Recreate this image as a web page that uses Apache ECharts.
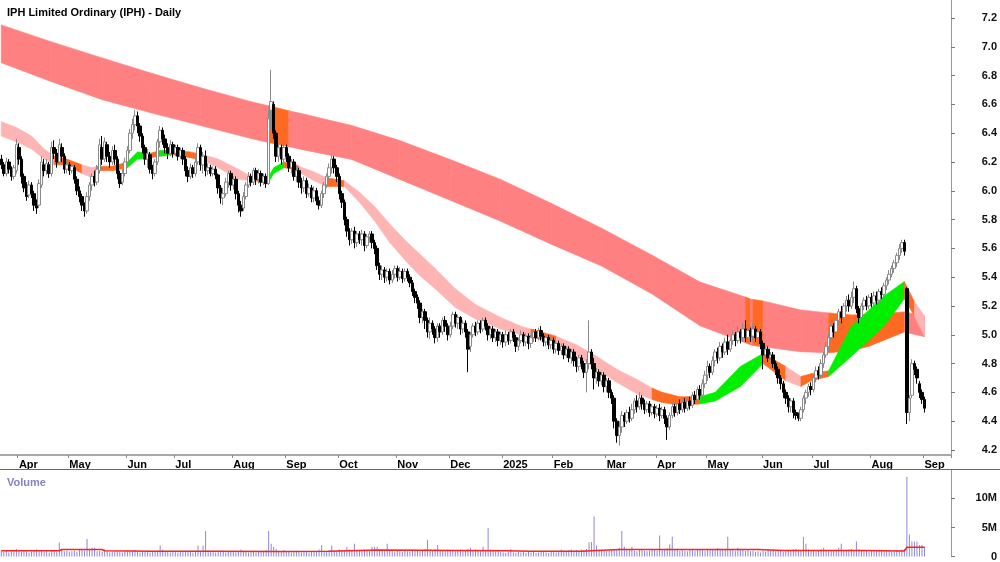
<!DOCTYPE html>
<html>
<head>
<meta charset="utf-8">
<script src="https://cdn.jsdelivr.net/npm/echarts@6/dist/echarts.min.js"></script>
<style>
  html, body { margin: 0; padding: 0; background: #fff; }
  #chart { width: 1000px; height: 562px; }
</style>
</head>
<body>
<div id="chart"></div>
<script>
// daily candles, [open, close, low, high]
const ohlc = [
  [6.22,6.18,6.15,6.25],[6.18,6.12,6.10,6.20],[6.12,6.20,6.10,6.23],[6.20,6.15,6.12,6.22],[6.15,6.10,6.07,6.17],
  [6.10,6.16,6.08,6.18],[6.14,6.32,6.12,6.36],[6.30,6.22,6.18,6.33],[6.22,6.10,6.05,6.24],[6.10,6.02,5.99,6.12],
  [6.04,5.96,5.93,6.06],[5.97,6.04,5.95,6.07],[6.04,5.98,5.95,6.06],[5.98,5.90,5.86,6.00],[5.90,5.88,5.84,5.94],
  [5.90,6.05,5.88,6.08],[6.04,6.20,6.02,6.24],[6.18,6.14,6.10,6.22],[6.14,6.19,6.11,6.22],[6.18,6.12,6.09,6.20],
  [6.12,6.30,6.10,6.34],[6.30,6.26,6.22,6.35],[6.26,6.20,6.16,6.29],[6.20,6.32,6.18,6.36],[6.30,6.24,6.20,6.33],
  [6.24,6.15,6.12,6.26],[6.15,6.18,6.12,6.21],[6.18,6.14,6.11,6.20],[6.14,6.17,6.12,6.19],[6.16,6.08,6.05,6.18],
  [6.08,6.00,5.97,6.10],[6.00,5.96,5.92,6.03],[5.96,5.90,5.86,5.98],[5.90,5.86,5.82,5.92],[5.86,5.96,5.84,5.99],
  [5.96,6.04,5.93,6.06],[6.04,6.10,6.00,6.12],[6.10,6.06,6.03,6.14],[6.06,6.15,6.04,6.18],[6.14,6.32,6.12,6.36],
  [6.30,6.22,6.18,6.38],[6.22,6.34,6.20,6.37],[6.32,6.24,6.20,6.34],[6.24,6.20,6.16,6.27],[6.20,6.28,6.18,6.31],
  [6.28,6.22,6.18,6.32],[6.22,6.12,6.08,6.24],[6.12,6.05,6.02,6.14],[6.06,6.12,6.04,6.15],[6.12,6.20,6.10,6.23],
  [6.20,6.28,6.17,6.31],[6.28,6.40,6.26,6.43],[6.40,6.46,6.36,6.50],[6.46,6.52,6.42,6.56],[6.52,6.45,6.40,6.55],
  [6.45,6.38,6.34,6.47],[6.38,6.30,6.26,6.40],[6.30,6.22,6.18,6.32],[6.22,6.26,6.16,6.29],[6.25,6.15,6.12,6.27],
  [6.15,6.12,6.08,6.18],[6.12,6.20,6.10,6.22],[6.20,6.34,6.18,6.36],[6.34,6.42,6.30,6.45],[6.42,6.36,6.32,6.44],
  [6.36,6.30,6.26,6.39],[6.30,6.26,6.22,6.33],[6.26,6.32,6.24,6.35],[6.32,6.26,6.23,6.34],[6.26,6.30,6.24,6.32],
  [6.30,6.24,6.21,6.32],[6.24,6.28,6.22,6.30],[6.28,6.22,6.18,6.30],[6.22,6.14,6.10,6.24],[6.14,6.10,6.06,6.17],
  [6.10,6.16,6.08,6.19],[6.16,6.12,6.09,6.18],[6.12,6.20,6.10,6.22],[6.20,6.30,6.18,6.33],[6.30,6.18,6.14,6.32],
  [6.18,6.24,6.12,6.27],[6.24,6.14,6.10,6.28],[6.14,6.16,6.11,6.19],[6.16,6.12,6.10,6.18],[6.12,6.15,6.10,6.17],
  [6.15,6.11,6.08,6.17],[6.11,6.02,5.98,6.12],[6.02,5.95,5.91,6.04],[5.95,5.98,5.90,6.02],[5.98,6.06,5.96,6.09],
  [6.06,6.12,6.02,6.14],[6.12,6.04,6.00,6.14],[6.04,6.08,6.01,6.10],[6.08,5.98,5.94,6.10],[5.98,5.90,5.85,6.00],
  [5.90,5.86,5.82,5.93],[5.88,5.96,5.86,5.99],[5.96,6.04,5.94,6.06],[6.04,6.10,6.02,6.13],[6.10,6.06,6.03,6.12],
  [6.06,6.14,6.04,6.16],[6.14,6.08,6.04,6.16],[6.08,6.12,6.05,6.15],[6.12,6.06,6.03,6.14],[6.06,6.10,6.04,6.12],
  [6.10,6.05,6.02,6.12],[6.05,6.50,6.04,6.56],[6.56,6.62,6.42,6.84],[6.60,6.40,6.36,6.62],[6.40,6.24,6.20,6.42],
  [6.24,6.30,6.20,6.33],[6.30,6.22,6.18,6.32],[6.22,6.30,6.20,6.33],[6.30,6.24,6.20,6.32],[6.24,6.16,6.13,6.26],
  [6.16,6.20,6.12,6.22],[6.20,6.10,6.07,6.22],[6.10,6.14,6.06,6.17],[6.14,6.06,6.02,6.16],[6.06,6.02,5.98,6.09],
  [6.02,6.07,5.99,6.10],[6.07,5.98,5.95,6.09],[5.98,6.02,5.96,6.05],[6.02,5.95,5.92,6.04],[5.95,6.00,5.92,6.03],
  [6.00,5.93,5.90,6.02],[5.93,5.90,5.87,5.96],[5.90,5.98,5.88,6.00],[5.98,6.04,5.95,6.06],[6.04,6.10,6.02,6.12],
  [6.10,6.16,6.07,6.19],[6.16,6.22,6.12,6.25],[6.22,6.16,6.12,6.24],[6.16,6.10,6.06,6.18],[6.10,5.98,5.94,6.12],
  [5.98,5.92,5.88,6.00],[5.92,5.80,5.76,5.94],[5.80,5.72,5.68,5.82],[5.72,5.66,5.62,5.74],[5.66,5.72,5.63,5.74],
  [5.72,5.64,5.60,5.75],[5.64,5.70,5.61,5.72],[5.70,5.66,5.63,5.72],[5.66,5.70,5.62,5.73],[5.70,5.62,5.58,5.72],
  [5.62,5.68,5.60,5.70],[5.68,5.70,5.64,5.72],[5.70,5.64,5.60,5.72],[5.64,5.60,5.56,5.66],[5.60,5.48,5.45,5.62],
  [5.48,5.42,5.38,5.50],[5.42,5.45,5.38,5.48],[5.45,5.40,5.36,5.47],[5.40,5.44,5.37,5.46],[5.44,5.38,5.35,5.46],
  [5.38,5.42,5.36,5.45],[5.42,5.46,5.39,5.48],[5.46,5.40,5.37,5.48],[5.40,5.44,5.38,5.47],[5.44,5.39,5.36,5.46],
  [5.39,5.44,5.37,5.46],[5.44,5.40,5.37,5.46],[5.40,5.36,5.33,5.42],[5.36,5.30,5.27,5.38],[5.30,5.26,5.22,5.32],
  [5.26,5.22,5.18,5.28],[5.22,5.12,5.08,5.24],[5.12,5.16,5.08,5.18],[5.16,5.10,5.04,5.18],[5.10,5.02,4.98,5.12],
  [5.02,5.08,4.97,5.12],[5.08,5.04,5.00,5.10],[5.04,4.98,4.94,5.06],[4.98,5.06,4.95,5.08],[5.06,5.02,4.98,5.08],
  [5.02,5.10,5.00,5.12],[5.10,5.06,5.02,5.13],[5.06,5.00,4.96,5.08],[5.00,5.06,4.98,5.09],[5.06,5.14,5.04,5.16],
  [5.14,5.08,5.05,5.16],[5.08,5.12,5.04,5.14],[5.12,5.04,5.00,5.13],[5.04,5.08,5.01,5.10],[5.08,5.02,4.98,5.10],
  [5.02,4.90,4.74,5.04],[4.92,5.00,4.88,5.02],[5.00,5.06,4.98,5.08],[5.06,5.02,4.99,5.09],[5.02,5.08,5.00,5.10],
  [5.08,5.04,5.01,5.10],[5.04,5.10,5.02,5.12],[5.10,5.06,5.03,5.12],[5.06,5.00,4.96,5.08],[5.00,5.04,4.97,5.06],
  [5.04,4.98,4.95,5.06],[4.98,5.02,4.95,5.04],[5.02,4.96,4.92,5.04],[4.96,5.00,4.93,5.02],[5.00,4.95,4.91,5.02],
  [4.95,5.00,4.92,5.03],[5.00,4.96,4.93,5.02],[4.96,5.02,4.94,5.04],[5.02,4.98,4.95,5.04],[4.98,4.92,4.88,5.00],
  [4.92,4.96,4.89,4.98],[4.96,5.00,4.94,5.03],[5.00,4.95,4.92,5.02],[4.95,4.99,4.92,5.01],[4.99,4.94,4.90,5.01],
  [4.94,4.98,4.91,5.00],[4.98,5.02,4.95,5.04],[5.02,4.98,4.95,5.04],[4.98,5.03,4.96,5.05],[5.03,4.99,4.96,5.06],
  [4.99,4.95,4.92,5.01],[4.95,4.98,4.92,5.00],[4.98,4.93,4.90,5.00],[4.93,4.96,4.90,4.98],[4.96,4.90,4.87,4.98],
  [4.90,4.94,4.87,4.96],[4.94,4.89,4.86,4.96],[4.89,4.92,4.86,4.94],[4.92,4.86,4.83,4.94],[4.86,4.90,4.84,4.92],
  [4.90,4.84,4.81,4.92],[4.84,4.88,4.80,4.90],[4.88,4.82,4.78,4.90],[4.82,4.78,4.74,4.85],[4.78,4.84,4.75,4.86],
  [4.84,4.80,4.76,4.86],[4.80,4.74,4.70,4.82],[4.74,4.80,4.60,4.83],[4.80,4.88,4.76,5.10],[4.88,4.80,4.76,4.90],
  [4.80,4.70,4.62,4.84],[4.70,4.74,4.66,4.77],[4.74,4.68,4.64,4.76],[4.68,4.72,4.65,4.74],[4.72,4.64,4.60,4.74],
  [4.64,4.68,4.60,4.70],[4.68,4.60,4.56,4.70],[4.60,4.56,4.52,4.62],[4.56,4.40,4.35,4.58],[4.40,4.30,4.25,4.42],
  [4.30,4.36,4.23,4.40],[4.36,4.44,4.32,4.47],[4.44,4.40,4.36,4.46],[4.40,4.46,4.38,4.48],[4.46,4.42,4.39,4.50],
  [4.42,4.48,4.40,4.52],[4.48,4.54,4.45,4.56],[4.54,4.50,4.46,4.58],[4.50,4.56,4.48,4.60],[4.56,4.52,4.48,4.58],
  [4.52,4.48,4.45,4.55],[4.48,4.52,4.46,4.54],[4.52,4.46,4.43,4.54],[4.46,4.50,4.44,4.52],[4.50,4.45,4.42,4.52],
  [4.45,4.49,4.43,4.51],[4.49,4.44,4.40,4.52],[4.44,4.48,4.42,4.50],[4.48,4.42,4.38,4.50],[4.42,4.36,4.27,4.44],
  [4.36,4.44,4.34,4.46],[4.44,4.50,4.42,4.53],[4.50,4.46,4.43,4.52],[4.46,4.52,4.44,4.54],[4.52,4.48,4.45,4.55],
  [4.48,4.53,4.46,4.55],[4.53,4.49,4.46,4.56],[4.49,4.54,4.47,4.57],[4.54,4.51,4.48,4.57],[4.51,4.58,4.49,4.60],
  [4.58,4.55,4.52,4.61],[4.55,4.62,4.53,4.64],[4.62,4.58,4.55,4.65],[4.58,4.66,4.56,4.69],[4.66,4.72,4.63,4.75],
  [4.72,4.78,4.68,4.82],[4.78,4.74,4.70,4.80],[4.74,4.82,4.72,4.85],[4.82,4.88,4.78,4.90],[4.88,4.84,4.80,4.91],
  [4.84,4.92,4.82,4.95],[4.92,4.88,4.84,4.94],[4.88,4.95,4.86,4.98],[4.95,4.90,4.86,5.00],[4.90,4.96,4.88,4.98],
  [4.96,5.00,4.93,5.03],[5.00,4.96,4.92,5.02],[4.96,5.02,4.94,5.06],[5.02,4.98,4.94,5.04],[4.98,5.04,4.95,5.08],
  [5.04,4.98,4.95,5.10],[4.98,5.03,4.95,5.06],[5.03,4.99,4.95,5.05],[4.99,5.04,4.96,5.08],[5.04,4.98,4.95,5.06],
  [4.98,5.02,4.94,5.05],[5.02,4.94,4.90,5.04],[4.94,4.86,4.76,4.96],[4.86,4.90,4.83,4.92],[4.90,4.84,4.81,4.92],
  [4.84,4.86,4.81,4.88],[4.86,4.80,4.77,4.88],[4.80,4.76,4.72,4.82],[4.76,4.70,4.66,4.78],[4.70,4.66,4.62,4.72],
  [4.66,4.60,4.56,4.68],[4.60,4.56,4.52,4.62],[4.56,4.50,4.46,4.58],[4.50,4.54,4.46,4.56],[4.54,4.46,4.42,4.56],
  [4.46,4.44,4.41,4.48],[4.44,4.42,4.40,4.46],[4.42,4.48,4.40,4.50],[4.48,4.56,4.46,4.58],[4.56,4.60,4.52,4.62],
  [4.60,4.64,4.57,4.66],[4.64,4.62,4.58,4.67],[4.62,4.70,4.60,4.72],[4.70,4.75,4.67,4.78],[4.75,4.72,4.69,4.78],
  [4.72,4.80,4.70,4.83],[4.80,4.86,4.77,4.88],[4.86,4.92,4.84,4.95],[4.92,4.98,4.88,5.01],[4.98,5.06,4.95,5.08],
  [5.06,5.02,4.98,5.08],[5.02,5.10,5.00,5.12],[5.10,5.16,5.06,5.18],[5.16,5.12,5.08,5.20],[5.12,5.20,5.10,5.22],
  [5.20,5.24,5.16,5.27],[5.24,5.20,5.16,5.28],[5.20,5.26,5.18,5.30],[5.26,5.32,5.22,5.37],[5.32,5.18,5.15,5.34],
  [5.18,5.12,5.08,5.20],[5.12,5.20,5.10,5.22],[5.20,5.24,5.17,5.26],[5.24,5.20,5.17,5.27],[5.20,5.26,5.18,5.28],
  [5.26,5.22,5.19,5.29],[5.22,5.27,5.20,5.30],[5.27,5.24,5.21,5.30],[5.24,5.30,5.22,5.32],[5.30,5.28,5.25,5.33],
  [5.28,5.34,5.26,5.36],[5.34,5.38,5.31,5.40],[5.38,5.42,5.35,5.45],[5.42,5.46,5.40,5.48],[5.46,5.50,5.43,5.52],
  [5.50,5.55,5.47,5.57],[5.55,5.60,5.52,5.63],[5.60,5.64,5.57,5.66],[5.64,5.58,5.55,5.66],[5.32,4.46,4.38,5.33],
  [4.46,4.56,4.40,4.58],[4.58,4.80,4.56,4.83],[4.80,4.76,4.72,4.82],[4.76,4.70,4.66,4.78],[4.66,4.60,4.56,4.68],
  [4.60,4.55,4.52,4.62],[4.55,4.49,4.46,4.57]
];

// daily volume, millions
const volume = [
  0.9,0.8,1.0,0.7,0.9,1.1,1.3,0.9,0.8,1.0, 0.9,0.7,0.8,1.0,1.2,0.9,1.1,0.8,0.9,0.7,
  1.0,0.9,0.8,2.4,1.1,0.9,1.0,0.8,0.9,1.0, 0.8,1.1,1.2,1.0,3.0,1.3,1.5,1.5,0.9,1.0,
  0.8,1.2,0.9,0.7,0.8,1.0,0.9,0.8,0.7,0.9, 1.0,0.8,0.9,1.1,0.8,0.7,0.9,0.8,1.0,0.7,
  0.9,0.8,1.0,1.9,1.2,0.9,0.8,0.7,0.9,0.8, 0.7,0.9,0.8,1.0,0.9,0.8,0.7,0.9,1.9,1.0,
  1.9,4.4,1.1,0.9,0.8,0.7,0.9,1.0,0.8,0.7, 0.9,0.8,1.0,0.7,0.9,1.2,0.8,0.9,0.7,0.8,
  0.9,0.7,0.8,1.0,0.9,1.1,4.4,2.2,1.7,1.3, 1.0,0.9,1.1,0.8,0.9,0.7,0.8,1.0,0.9,0.7,
  0.8,0.9,0.7,0.8,1.0,0.9,1.2,2.0,1.0,0.9, 1.1,1.9,1.0,0.9,1.2,1.0,1.1,1.7,1.2,1.0,
  2.2,1.1,1.0,0.9,1.2,1.0,1.1,1.7,1.7,1.7, 1.2,1.0,1.1,2.2,1.0,0.9,0.8,1.0,0.9,0.8,
  1.0,0.9,0.8,1.1,1.2,1.0,0.9,1.1,1.3,2.9, 1.2,1.0,1.3,2.0,1.1,1.0,0.9,1.2,1.0,1.1,
  0.9,1.0,1.2,0.9,1.1,1.3,1.5,1.0,1.2,1.1, 1.0,1.7,1.1,4.9,1.2,1.0,0.9,1.1,0.8,0.7,
  0.6,0.8,1.3,0.7,0.6,0.8,0.7,0.9,0.6,0.8, 0.7,0.8,0.6,0.7,0.9,0.8,0.7,0.6,0.8,0.9,
  0.7,0.8,1.2,1.0,0.9,1.1,1.2,1.0,1.1,1.0, 1.2,1.1,1.3,2.4,2.5,6.9,1.9,1.2,1.0,1.1,
  0.9,1.0,1.1,1.2,1.3,1.5,4.4,1.7,1.2,1.1, 1.7,1.0,0.9,1.1,1.2,1.0,0.9,1.0,1.1,1.2,
  1.0,3.6,1.2,1.3,1.4,2.1,3.4,1.3,1.2,1.0, 1.1,1.0,0.9,1.2,1.1,1.0,1.2,1.1,1.3,1.0,
  1.2,1.1,1.3,1.2,1.4,1.1,1.3,1.2,3.4,1.2, 1.1,1.0,1.5,1.3,1.2,1.0,1.1,0.9,1.0,0.8,
  0.9,0.7,1.0,0.8,1.1,1.0,1.2,0.9,1.0,1.1, 0.8,0.9,1.1,1.0,1.2,1.3,1.1,1.0,3.4,2.2,
  1.2,1.0,1.1,0.9,1.0,1.2,1.5,1.0,0.9,1.1, 1.0,1.2,1.5,2.2,1.1,1.0,1.2,1.3,1.1,2.6,
  1.2,1.0,0.9,1.1,0.8,1.0,0.9,1.1,1.2,1.0, 0.9,1.0,1.1,0.8,0.9,1.1,1.0,1.2,1.3,13.7,
  3.8,2.6,2.6,2.6,2.0,2.0,1.7
];

// volume average line, [day, millions]
const volumeAvg = [
  [0,1.0],[23,1.0],[24,1.2],[40,1.2],[41,1.0],[60,0.9],[85,0.9],[110,0.85],[130,0.9],
  [150,1.1],[180,1.05],[200,1.0],[210,0.9],[230,0.9],[245,1.2],[300,1.2],[310,1.05],
  [340,1.05],[358,0.95],[359,1.6],[366,1.6]
];

// long-term average band: day, top, bottom, state (0 normal, 1 hot)
const longDay = [0,20,40,59,79,99,106,114,119,139,158,178,198,218,238,258,277,295,297,298,302,317,328,337,344,358,366];
const longTop = [7.152,7.034,6.923,6.819,6.716,6.619,6.59,6.556,6.536,6.453,6.349,6.217,6.079,5.913,5.74,5.553,5.366,5.262,5.249,5.245,5.235,5.172,5.152,5.138,5.14,5.159,5.131];
const longBot = [6.889,6.757,6.633,6.543,6.453,6.363,6.335,6.307,6.287,6.217,6.079,5.934,5.788,5.629,5.477,5.283,5.062,4.944,4.93,4.926,4.916,4.882,4.875,4.889,4.92,5.02,4.986];
const longState = [0,0,0,0,0,0,1,0,0,0,0,0,0,0,0,0,0,1,0,1,0,0,1,1,1,0,0];

// short-term average band: day, top, bottom, state (0 normal, 1 hot, 2 rising)
const shortDay = [0,6,12,17,21,26,32,36,38,44,50,54,59,63,68,75,80,86,94,99,106,108,112,116,118,124,129,136,142,148,154,161,166,172,180,188,198,206,210,214,220,228,236,244,252,258,262,269,277,283,293,302,311,317,321,328,337,350,358,362,366];
const shortTop = [6.48,6.44,6.38,6.29,6.24,6.22,6.18,6.16,6.17,6.17,6.20,6.27,6.26,6.28,6.28,6.27,6.25,6.22,6.15,6.10,6.10,6.16,6.20,6.19,6.17,6.13,6.09,6.07,5.99,5.89,5.77,5.64,5.56,5.46,5.32,5.21,5.12,5.06,5.04,5.02,4.99,4.93,4.85,4.76,4.69,4.63,4.60,4.57,4.57,4.60,4.78,4.87,4.78,4.71,4.73,4.75,5.06,5.27,5.37,5.23,5.13];
const shortBot = [6.38,6.34,6.29,6.22,6.18,6.18,6.12,6.09,6.14,6.14,6.16,6.22,6.23,6.24,6.25,6.23,6.21,6.16,6.08,6.07,6.06,6.12,6.16,6.15,6.13,6.07,6.03,6.03,5.92,5.79,5.64,5.50,5.41,5.32,5.19,5.11,5.04,5.00,4.98,4.97,4.94,4.86,4.76,4.67,4.59,4.55,4.53,4.51,4.52,4.54,4.64,4.80,4.68,4.64,4.68,4.71,4.85,5.06,5.25,5.13,4.99];
const shortState = [0,0,0,0,1,1,0,0,1,1,2,2,1,2,1,1,0,0,0,1,2,2,1,1,0,0,1,0,0,0,0,0,0,0,0,0,0,0,1,1,0,0,0,0,0,1,1,1,2,2,2,1,0,1,1,2,2,2,1,0,0];

// axis labels
const monthStart = [7,27,50,69,92,113,134,157,178,199,219,240,260,280,302,322,345,366];
const monthLabels = ['Apr','May','Jun','Jul','Aug','Sep','Oct','Nov','Dec','2025','Feb','Mar','Apr','May','Jun','Jul','Aug','Sep'];
const priceTicks = [4.2,4.4,4.6,4.8,5.0,5.2,5.4,5.6,5.8,6.0,6.2,6.4,6.6,6.8,7.0,7.2];
const volumeTicks = [0,5,10];

const SLOTS = 377; // trading days plus empty room on the right
const slots = Array.from({ length: SLOTS }, (_, i) => String(i));

const FONT = "'Liberation Sans Narrow', 'Liberation Sans', Arial, sans-serif";

function segments(day, top, bot, state) {
    const out = [];
    for (let k = 0; k < day.length - 1; k++) {
        out.push([day[k], top[k], bot[k], day[k + 1], top[k + 1], bot[k + 1], state[k]]);
    }
    return out;
}

function bandRenderer(colors) {
    return function (params, api) {
        const a = api.coord([api.value(0), api.value(1)]);
        const b = api.coord([api.value(3), api.value(4)]);
        const c = api.coord([api.value(3), api.value(5)]);
        const d = api.coord([api.value(0), api.value(2)]);
        const fill = colors[api.value(6)];
        return {
            type: 'polygon',
            shape: { points: [a, b, c, d] },
            style: { fill: fill, stroke: fill, lineWidth: 0.6 }
        };
    };
}

const isMonth = (index) => monthStart.indexOf(index) >= 0;

const chart = echarts.init(document.getElementById('chart'));
chart.setOption({
    animation: false,
    backgroundColor: '#fff',
    title: [
        {
            text: 'IPH Limited Ordinary (IPH) - Daily',
            left: 2, top: 2,
            textStyle: { fontFamily: FONT, fontSize: 11, fontWeight: 'bold', color: '#000' }
        },
        {
            text: 'Volume',
            left: 2, top: 472,
            textStyle: { fontFamily: FONT, fontSize: 11, fontWeight: 'bold', color: '#8484c4' }
        }
    ],
    grid: [
        { left: 0, right: 49, top: 0, height: 455 },
        { left: 0, right: 49, top: 470, height: 88 }
    ],
    xAxis: [
        {
            type: 'category', gridIndex: 0, data: slots, boundaryGap: true,
            axisLine: { show: true, lineStyle: { color: '#a8a8a8', width: 2 } },
            axisTick: { show: true, interval: isMonth, length: 3, lineStyle: { color: '#888' } },
            axisLabel: {
                interval: isMonth,
                formatter: (v, i) => monthLabels[monthStart.indexOf(Number(v))],
                align: 'left', margin: 4,
                fontFamily: FONT, fontSize: 11, fontWeight: 'bold', color: '#000'
            },
            splitLine: { show: false }
        },
        {
            type: 'category', gridIndex: 1, data: slots, boundaryGap: true,
            axisLine: { show: false }, axisTick: { show: false }, axisLabel: { show: false }
        }
    ],
    yAxis: [
        {
            type: 'value', gridIndex: 0, position: 'right',
            min: 4.165, max: 7.325, scale: true,
            axisLine: { show: true, onZero: false, lineStyle: { color: '#999' } },
            axisTick: { show: true, customValues: priceTicks, length: 4, lineStyle: { color: '#777' } },
            axisLabel: {
                customValues: priceTicks, formatter: (v) => v.toFixed(1),
                align: 'right', margin: 46,
                fontFamily: FONT, fontSize: 11, fontWeight: 'bold', color: '#111'
            },
            splitLine: { show: false }
        },
        {
            type: 'value', gridIndex: 1, position: 'right',
            min: 0, max: 14.9,
            axisLine: { show: true, onZero: false, lineStyle: { color: '#999' } },
            axisTick: { show: true, customValues: volumeTicks, length: 4, lineStyle: { color: '#777' } },
            axisLabel: {
                customValues: volumeTicks, formatter: (v) => (v === 0 ? '0' : v + 'M'),
                align: 'right', margin: 46,
                fontFamily: FONT, fontSize: 11, fontWeight: 'bold', color: '#111'
            },
            splitLine: { show: false }
        }
    ],
    graphic: [
        {
            type: 'line', z: 100,
            shape: { x1: 0, y1: 469.5, x2: 1000, y2: 469.5 },
            style: { stroke: '#666', lineWidth: 1 }
        }
    ],
    series: [
        {
            name: 'long band', type: 'custom', xAxisIndex: 0, yAxisIndex: 0, z: 1,
            renderItem: bandRenderer(['#ff8080', '#ff6a22']),
            encode: { x: [0, 3], y: [1, 2, 4, 5] },
            data: segments(longDay, longTop, longBot, longState)
        },
        {
            name: 'short band', type: 'custom', xAxisIndex: 0, yAxisIndex: 0, z: 2,
            renderItem: bandRenderer(['#ffb4b4', '#ff6a22', '#00ee00']),
            encode: { x: [0, 3], y: [1, 2, 4, 5] },
            data: segments(shortDay, shortTop, shortBot, shortState)
        },
        {
            name: 'IPH', type: 'candlestick', xAxisIndex: 0, yAxisIndex: 0, z: 3,
            barWidth: 3,
            itemStyle: {
                color: '#ffffff', color0: '#000000',
                borderColor: '#8a8a8a', borderColor0: '#000000', borderWidth: 1
            },
            data: ohlc
        },
        {
            name: 'Volume', type: 'bar', xAxisIndex: 1, yAxisIndex: 1,
            barWidth: 1, itemStyle: { color: '#8a8ad8' },
            data: volume
        },
        {
            name: 'Volume avg', type: 'line', xAxisIndex: 1, yAxisIndex: 1,
            showSymbol: false, symbol: 'none',
            lineStyle: { color: '#ff2020', width: 1.5 },
            data: volumeAvg
        }
    ]
});
</script>
</body>
</html>
